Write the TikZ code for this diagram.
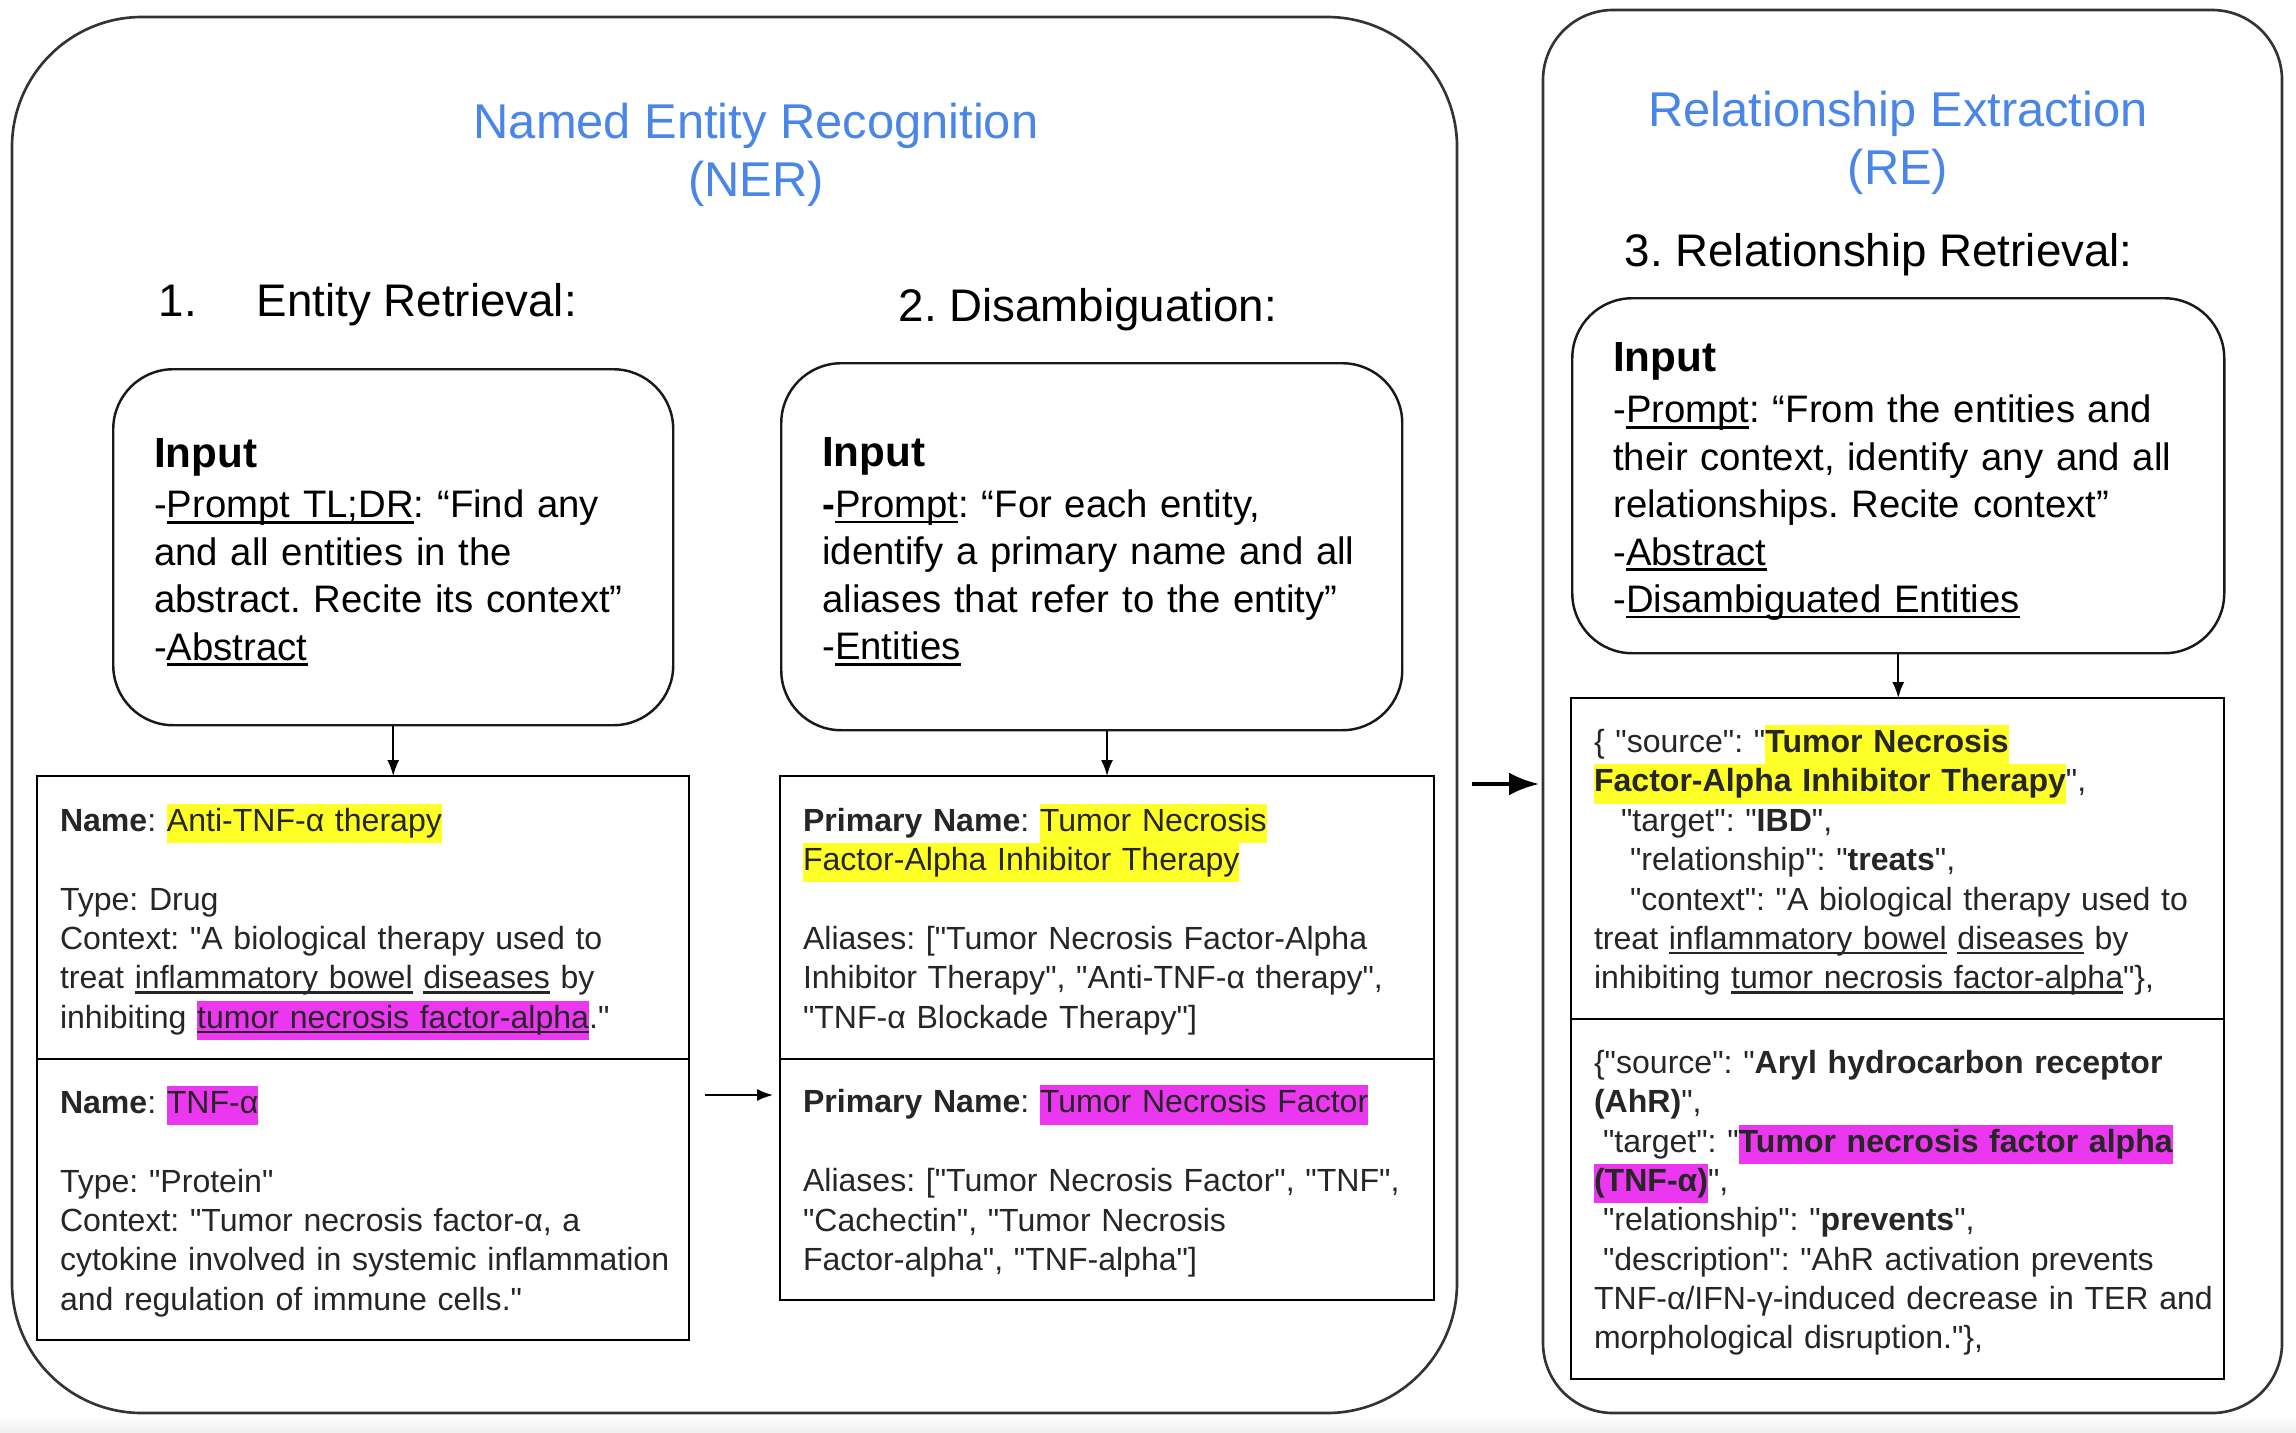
\documentclass[tikz,border=0pt]{standalone}
\usepackage{fontspec}
\setmainfont{Liberation Sans}[Ligatures=TeXOff]
\usetikzlibrary{arrows.meta,calc}
\frenchspacing
\definecolor{nerblue}{RGB}{74,134,232}
\definecolor{hlyellow}{RGB}{255,255,40}
\definecolor{hlmagenta}{RGB}{235,55,240}
\def\hly#1{{\setlength{\fboxsep}{0pt}\colorbox{hlyellow}{\strut #1}}}
\def\hlm#1{{\setlength{\fboxsep}{0pt}\colorbox{hlmagenta}{\strut #1}}}
\def\undl#1{\setbox0=\hbox{#1}\rlap{\rule[-0.15em]{\wd0}{0.07em}}\box0\relax}
\def\boxlines#1{\begin{tabular}{@{}l@{}}\rule{0pt}{10.3pt}#1\end{tabular}}
\def\inhead{{\fontsize{12}{14.5}\selectfont\bfseries\rule{0pt}{13.4pt}Input}}
\tikzset{
	outerbox/.style={draw=black!80, line width=0.75pt, rounded corners=#1, outer sep=0pt, anchor=north west},
	inbox/.style={draw=black!90, line width=0.7pt, rounded corners=0.6cm, align=left, inner xsep=0.41cm, inner ysep=0pt, font=\fontsize{10.9}{13.5}\selectfont, anchor=north west},
	cell/.style={draw, line width=0.8pt, outer sep=0pt, align=left, inner xsep=0.23cm, inner ysep=0pt, font=\fontsize{9.12}{11.2}\selectfont, text=black!85, anchor=north west},
	arr/.style={-{Latex[length=1.6mm,width=1.2mm]}, line width=0.5pt},
	bigarr/.style={-{Latex[length=3mm,width=2.3mm]}, line width=1.2pt},
	title/.style={text=nerblue, align=center, font=\fontsize{13.9}{16.5}\selectfont},
	heading/.style={anchor=west, inner sep=0pt, font=\fontsize{13}{15.6}\selectfont}
}

\begin{document}
\begin{tikzpicture}
		%%%%% START %%%%%
		
		\useasboundingbox (0,0) rectangle (22.96,-14.32);
		\shade[top color=white, bottom color=black!6] (0,-14.15) rectangle (22.96,-14.32);
		
		\node[outerbox=1.3cm, minimum width=14.45cm, minimum height=13.96cm] (ner) at (0.12,-0.17) {};
		\node[outerbox=0.7cm, minimum width=7.39cm, minimum height=14.03cm] (re) at (15.43,-0.10) {};
		
		\node[title] (nertitle) at (7.56,-1.55) {Named Entity Recognition\\(NER)};
		\node[title] (retitle) at (18.98,-1.43) {Relationship Extraction\\(RE)};
		
		\node[heading] (h1) at (1.58,-3.05) {1.\hspace{0.6cm}Entity Retrieval:};
		\node[heading] (h2) at (8.98,-3.10) {2. Disambiguation:};
		\node[heading] (h3) at (16.24,-2.55) {3. Relationship Retrieval:};
		
		\node[inbox, text width=4.78cm, minimum height=3.56cm] (in1) at (1.12,-3.68) {\boxlines{\inhead\\[1pt]
			-\undl{Prompt TL;DR}: “Find any\\
			and all entities in the\\
			abstract. Recite its context”\\
			-\undl{Abstract}}};
		\node[inbox, text width=5.39cm, minimum height=3.67cm] (in2) at (7.80,-3.62) {\boxlines{\inhead\\[1pt]
			\textbf{-}\undl{Prompt}: “For each entity,\\
			identify a primary name and all\\
			aliases that refer to the entity”\\
			-\undl{Entities}}};
		\node[inbox, text width=5.70cm, minimum height=3.55cm] (in3) at (15.71,-2.97) {\boxlines{\inhead\\[1pt]
			-\undl{Prompt}: “From the entities and\\
			their context, identify any and all\\
			relationships. Recite context”\\
			-\undl{Abstract}\\
			-\undl{Disambiguated Entities}}};
		
		\node[cell, text width=6.06cm, minimum height=2.83cm] (lt) at (0.37,-7.76) {\boxlines{\textbf{Name}: \hly{Anti-TNF-α therapy}\\
			\\
			Type: Drug\\
			Context: "A biological therapy used to\\
			treat \undl{inflammatory bowel} \undl{diseases} by\\
			inhibiting \hlm{\undl{tumor necrosis factor-alpha}}."}};
		\node[cell, text width=6.06cm, minimum height=2.81cm, anchor=north] (lb) at (lt.south) {\boxlines{\textbf{Name}: \hlm{TNF-α}\\
			\\
			Type: "Protein"\\
			Context: "Tumor necrosis factor-α, a\\
			cytokine involved in systemic inflammation\\
			and regulation of immune cells."}};
		
		\node[cell, text width=6.08cm, minimum height=2.83cm] (mt) at (7.80,-7.76) {\boxlines{\textbf{Primary Name}: \hly{Tumor Necrosis}\\
			\hly{Factor-Alpha Inhibitor Therapy}\\
			\\
			Aliases: ["Tumor Necrosis Factor-Alpha\\
			Inhibitor Therapy", "Anti-TNF-α therapy",\\
			"TNF-α Blockade Therapy"]}};
		\node[cell, text width=6.08cm, minimum height=2.41cm, anchor=north] (mb) at (mt.south) {\boxlines{\textbf{Primary Name}: \hlm{Tumor Necrosis Factor}\\
			\\
			Aliases: ["Tumor Necrosis Factor", "TNF",\\
			"Cachectin", "Tumor Necrosis\\
			Factor-alpha", "TNF-alpha"]}};
		
		\node[cell, text width=6.07cm, minimum height=3.21cm] (rt) at (15.71,-6.98) {\boxlines{\{ "source": "\hly{\textbf{Tumor Necrosis}}\\
			\hly{\textbf{Factor-Alpha Inhibitor Therapy}}",\\
			\hspace*{0.27cm}"target": "\textbf{IBD}",\\
			\hspace*{0.36cm}"relationship": "\textbf{treats}",\\
			\hspace*{0.36cm}"context": "A biological therapy used to\\
			treat \undl{inflammatory bowel} \undl{diseases} by\\
			inhibiting \undl{tumor necrosis factor-alpha}"\},}};
		\node[cell, text width=6.07cm, minimum height=3.60cm, anchor=north] (rb) at (rt.south) {\boxlines{\{"source": "\textbf{Aryl hydrocarbon receptor}\\
			\textbf{(AhR)}",\\
			\hspace*{0.09cm}"target": "\hlm{\textbf{Tumor necrosis factor alpha}}\\
			\hlm{\textbf{(TNF-α)}}",\\
			\hspace*{0.09cm}"relationship": "\textbf{prevents}",\\
			\hspace*{0.09cm}"description": "AhR activation prevents\\
			TNF-α/IFN-γ-induced decrease in TER and\\
			morphological disruption."\},}};
		
		\draw[arr] (in1.south) -- (in1.south |- lt.north);
		\draw[arr] (in2.south -| mt.north) -- (mt.north);
		\draw[arr] (in3.south) -- (in3.south |- rt.north);
		
		\coordinate (tnfa) at (7.05,-10.95);
		\draw[arr, shorten >=0.07cm] (tnfa) -- (tnfa -| mb.west);
		
		\coordinate (nerout) at (14.72,-7.84);
		\draw[bigarr, shorten >=0.04cm] (nerout) -- (nerout -| re.west);
		
		%%%%% END %%%%%
\end{tikzpicture}
\end{document}
